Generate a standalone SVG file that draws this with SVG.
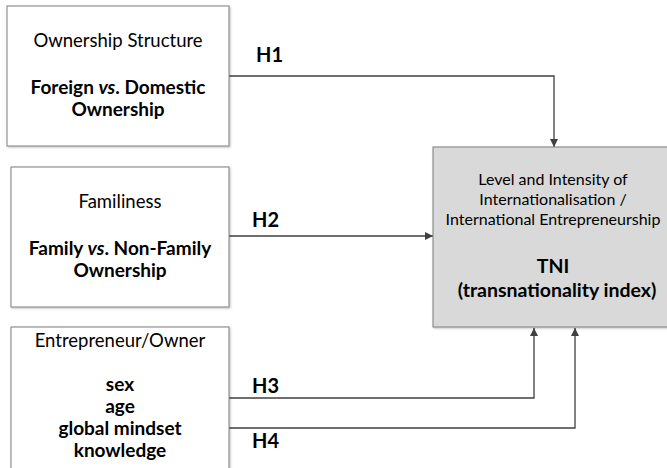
<svg xmlns="http://www.w3.org/2000/svg" width="667" height="468" viewBox="0 0 667 468">
<defs>
<marker id="ah" viewBox="0 0 10 10" refX="10" refY="5" markerWidth="8" markerHeight="8" markerUnits="userSpaceOnUse" orient="auto"><path d="M0,0 L10,5 L0,10 z" fill="#404040"/></marker>
<filter id="sh" x="-5%" y="-5%" width="110%" height="110%"><feDropShadow dx="1" dy="1" stdDeviation="0.8" flood-color="#000" flood-opacity="0.25"/></filter>
</defs>
<style>
.box{fill:#fff;stroke:#7f7f7f;stroke-width:1}
.tgt{fill:#d9d9d9;stroke:#7f7f7f;stroke-width:1}
text{font-family:Lato,"Open Sans","Liberation Sans",sans-serif;fill:#000;text-anchor:middle}
.r{font-size:18.5px}
.b{font-size:19px;font-weight:bold}
.s{font-size:16px}
.tb{font-size:19.5px;font-weight:bold}
.h{font-size:20px;font-weight:bold;text-anchor:start}
.c{fill:none;stroke:#404040;stroke-width:1.3}
</style>
<rect width="667" height="468" fill="#fff"/>
<g id="connectors">
<path class="c" d="M229,76 H554 V147" marker-end="url(#ah)"/>
<path class="c" d="M229,236 H433" marker-end="url(#ah)"/>
<path class="c" d="M229,398 H534 V328" marker-end="url(#ah)"/>
<path class="c" d="M229,428 H575 V328" marker-end="url(#ah)"/>
<text class="h" x="256" y="62">H1</text>
<text class="h" x="252" y="227">H2</text>
<text class="h" x="252" y="393">H3</text>
<text class="h" x="252" y="448">H4</text>
</g>
<g id="ownership">
<rect class="box" x="7" y="6" width="222" height="140" filter="url(#sh)"/>
<text class="r" x="118" y="47">Ownership Structure</text>
<text class="b" x="118" y="94">Foreign <tspan font-style="italic">vs</tspan>. Domestic</text>
<text class="b" x="118" y="116">Ownership</text>
</g>
<g id="familiness">
<rect class="box" x="11" y="167" width="218" height="140" filter="url(#sh)"/>
<text class="r" x="120" y="208">Familiness</text>
<text class="b" x="120" y="255">Family <tspan font-style="italic">vs</tspan>. Non-Family</text>
<text class="b" x="120" y="277">Ownership</text>
</g>
<g id="entrepreneur">
<rect class="box" x="11" y="327" width="218" height="150" filter="url(#sh)"/>
<text class="r" x="120" y="347">Entrepreneur/Owner</text>
<text class="b" x="120" y="391">sex</text>
<text class="b" x="120" y="413">age</text>
<text class="b" x="120" y="435">global mindset</text>
<text class="b" x="120" y="457">knowledge</text>
</g>
<g id="tni">
<rect class="tgt" x="433" y="147" width="240" height="180" filter="url(#sh)"/>
<text class="s" x="553" y="185">Level and Intensity of</text>
<text class="s" x="553" y="205">Internationalisation /</text>
<text class="s" x="553" y="225">International Entrepreneurship</text>
<text class="tb" x="553" y="273">TNI</text>
<text class="tb" x="557" y="297">(transnationality index)</text>
</g>
</svg>
